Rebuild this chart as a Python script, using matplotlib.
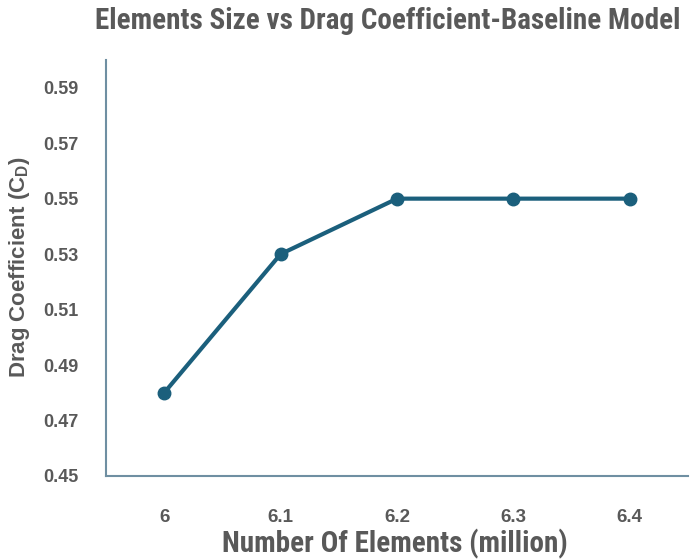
import matplotlib
matplotlib.use("Agg")
import matplotlib.pyplot as plt

categories = ["6", "6.1", "6.2", "6.3", "6.4"]
drag_coeff = [0.48, 0.53, 0.55, 0.55, 0.55]
yticks = [0.45, 0.47, 0.49, 0.51, 0.53, 0.55, 0.57, 0.59]

narrow = ["Roboto Condensed", "DejaVu Sans"]
arial = ["Liberation Sans", "DejaVu Sans"]

fig = plt.figure(figsize=(6.91, 5.59), dpi=100)
ax = fig.add_axes([0.1534, 0.1485, 0.8423, 0.7442])

line_color = "#1b5f7c"
text_color = "#595959"
spine_color = "#6f8fa2"

x = list(range(len(categories)))
ax.plot(x, drag_coeff, color=line_color, lw=3.0, marker="o", markersize=9,
        solid_capstyle="round")

ax.set_xlim(-0.5, 4.5)
ax.set_ylim(0.45, 0.60)
ax.set_xticks(x)
ax.set_xticklabels(categories)
ax.set_yticks(yticks)
ax.set_yticklabels([f"{v:.2f}" for v in yticks])

for s in ["top", "right"]:
    ax.spines[s].set_visible(False)
for s in ["left", "bottom"]:
    ax.spines[s].set_color(spine_color)
    ax.spines[s].set_linewidth(1.5)

ax.tick_params(axis="both", length=0, colors=text_color)
ax.tick_params(axis="y", pad=20)
ax.tick_params(axis="x", pad=24)
for lab in ax.get_yticklabels():
    lab.set_fontfamily(arial)
    lab.set_fontweight("bold")
    lab.set_fontsize(13)
    lab.set_color(text_color)
for lab in ax.get_xticklabels():
    lab.set_fontfamily(arial)
    lab.set_fontweight("bold")
    lab.set_fontsize(13.5)
    lab.set_color(text_color)

fig.text(0.571, 0.027, "Number Of Elements (million)", ha="center", va="center",
         fontsize=21, fontweight="semibold", color=text_color, family=narrow)
fig.text(0.028, 0.522, "Drag Coefficient (C$_\\mathregular{D}$)", rotation=90,
         ha="center", va="center", fontsize=16, fontweight="bold",
         color=text_color, family=arial)

fig.text(0.5615, 0.962, "Elements Size vs Drag Coefficient-Baseline Model",
         ha="center", va="center", fontsize=21, fontweight="semibold",
         color=text_color, family=narrow)

fig.savefig("out.png", dpi=100)
